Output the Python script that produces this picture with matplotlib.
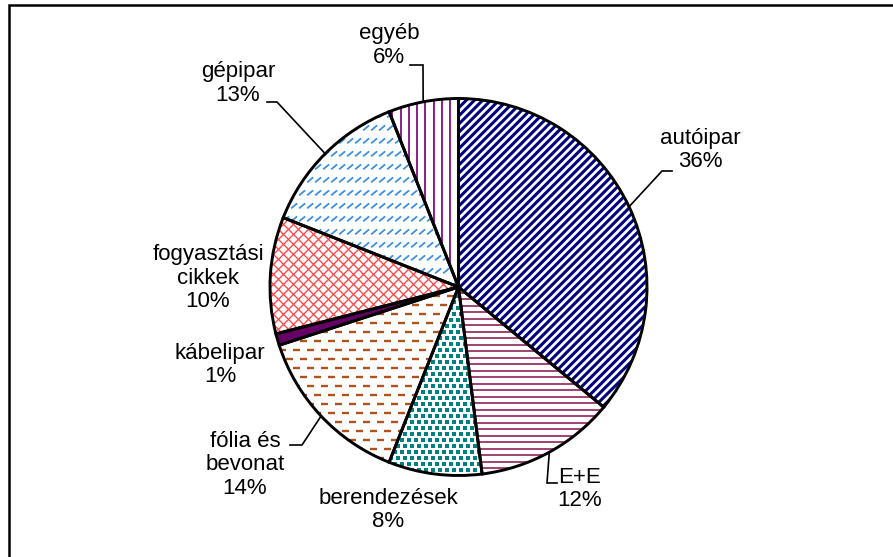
import numpy as np
import matplotlib
matplotlib.use("Agg")
import matplotlib.pyplot as plt
from matplotlib.collections import LineCollection
from matplotlib.patches import Wedge

plt.rcParams['font.family'] = ['Liberation Sans', 'DejaVu Sans']

# ---- data ----
categories = ["autóipar", "E+E", "berendezések", "fólia és\nbevonat", "kábelipar",
              "fogyasztási\ncikkek", "gépipar", "egyéb"]
values = [36, 12, 8, 14, 1, 10, 13, 6]

# ---- layout (pixels of the 893x557 canvas) ----
W, H = 893, 557
S = 188.5            # pie radius in px
CX, CY = 458.5, 287  # pie centre in px (y from top)
px = 1.0 / S

def P(x, y):
    return ((x - CX) / S, (CY - y) / S)

label_pos = [(700, 150), (580, 489), (388, 510), (245, 465), (220, 365),
             (208, 278), (238, 83.5), (389, 45.5)]
# elbow / end of leader lines (None = no leader)
leaders = [((662, 171), (672, 171)), ((547, 483), (557, 483)), None,
           ((302, 445), (290, 445)), None, None,
           ((277, 102), (267, 102)), ((423, 65), (410, 65))]

fig = plt.figure(figsize=(W / 100, H / 100), dpi=100)
ax = fig.add_axes([0, 0, 1, 1])

wedges, _ = ax.pie(values, startangle=90, counterclock=False, radius=1,
                   center=(0, 0),
                   wedgeprops=dict(facecolor='white', edgecolor='none', linewidth=0))
ax.set_aspect('auto')
ax.set_xlim((0 - CX) / S, (W - CX) / S)
ax.set_ylim((CY - H) / S, CY / S)
ax.axis('off')

def add_lines(segs, color, lw, wedge):
    lc = LineCollection(segs, colors=color, linewidths=lw, zorder=2,
                        capstyle='butt')
    ax.add_collection(lc)
    lc.set_clip_path(wedge)

R = 1.1
# autóipar: navy diagonal stripes
w = wedges[0]
segs = [[(-R, -R + c), (R, R + c)] for c in np.arange(-2.4, 2.4, 8.2 * px)]
add_lines(segs, '#000080', 2.2, w)

# E+E: mauve horizontal lines
w = wedges[1]
segs = [[(-R, y), (R, y)] for y in np.arange(-R, R, 6.5 * px)]
add_lines(segs, '#993366', 1.3, w)

# berendezések: teal squares
w = wedges[2]
xs, ys = [], []
for i, y in enumerate(np.arange(-R, R, 6 * px)):
    off = (i % 2) * 3.5 * px
    for x in np.arange(-R, R, 7 * px):
        xs.append(x + off); ys.append(y)
sc = ax.scatter(xs, ys, marker='s', s=5.0, color='#008080', linewidths=0, zorder=2)
sc.set_clip_path(w)

# fólia és bevonat: brown horizontal dashes
w = wedges[3]
segs = []
for i, y in enumerate(np.arange(-R, R, 9 * px)):
    off = (i % 2) * 7 * px
    for x in np.arange(-R, R, 14 * px):
        segs.append([(x + off, y), (x + off + 7 * px, y)])
add_lines(segs, '#B0521C', 1.7, w)

# kábelipar: solid fill
wedges[4].set_facecolor('#660066')

# fogyasztási cikkek: red cross-hatch
w = wedges[5]
segs = [[(-R, -R + c), (R, R + c)] for c in np.arange(-2.4, 2.4, 10 * px)]
segs += [[(-R, R + c), (R, -R + c)] for c in np.arange(-2.4, 2.4, 10 * px)]
add_lines(segs, '#FF4545', 0.95, w)

# gépipar: light blue short diagonal dashes
w = wedges[6]
segs = []
for y in np.arange(-R, R, 13 * px):
    for x in np.arange(-R, R, 8 * px):
        segs.append([(x, y), (x + 6 * px, y + 5 * px)])
add_lines(segs, '#3D8FE0', 1.3, w)

# egyéb: purple vertical lines
w = wedges[7]
segs = [[(x, -R), (x, R)] for x in np.arange(-R, R, 8.3 * px)]
add_lines(segs, '#8B1F8B', 1.4, w)

# outlines on top
for wd in wedges:
    ax.add_patch(Wedge(wd.center, wd.r, wd.theta1, wd.theta2, facecolor='none',
                       edgecolor='black', linewidth=2.1, zorder=3))

# labels and leaders
for i, (cat, v) in enumerate(zip(categories, values)):
    lx, ly = P(*label_pos[i])
    ax.text(lx, ly, f"{cat}\n{v}%", ha='center', va='center', fontsize=16,
            linespacing=1.15, color='black', zorder=5)
    if leaders[i] is not None:
        wd = wedges[i]
        mid = np.deg2rad((wd.theta1 + wd.theta2) / 2)
        ex, ey = np.cos(mid) * wd.r, np.sin(mid) * wd.r
        (bx, by), (tx, ty) = P(*leaders[i][0]), P(*leaders[i][1])
        ax.plot([ex, bx, tx], [ey, by, ty], color='black', lw=1.2, zorder=4,
                solid_joinstyle='miter')

# frame (top and left edges visible in the reference crop)
x0, y0 = P(9, 5)
x1, _ = P(W, 5)
_, y1 = P(9, H)
ax.plot([x1, x0, x0], [y0, y0, y1], color='black', lw=1.8, zorder=6,
        clip_on=False, solid_joinstyle='miter')

fig.savefig('out.png', dpi=100, facecolor='white')
